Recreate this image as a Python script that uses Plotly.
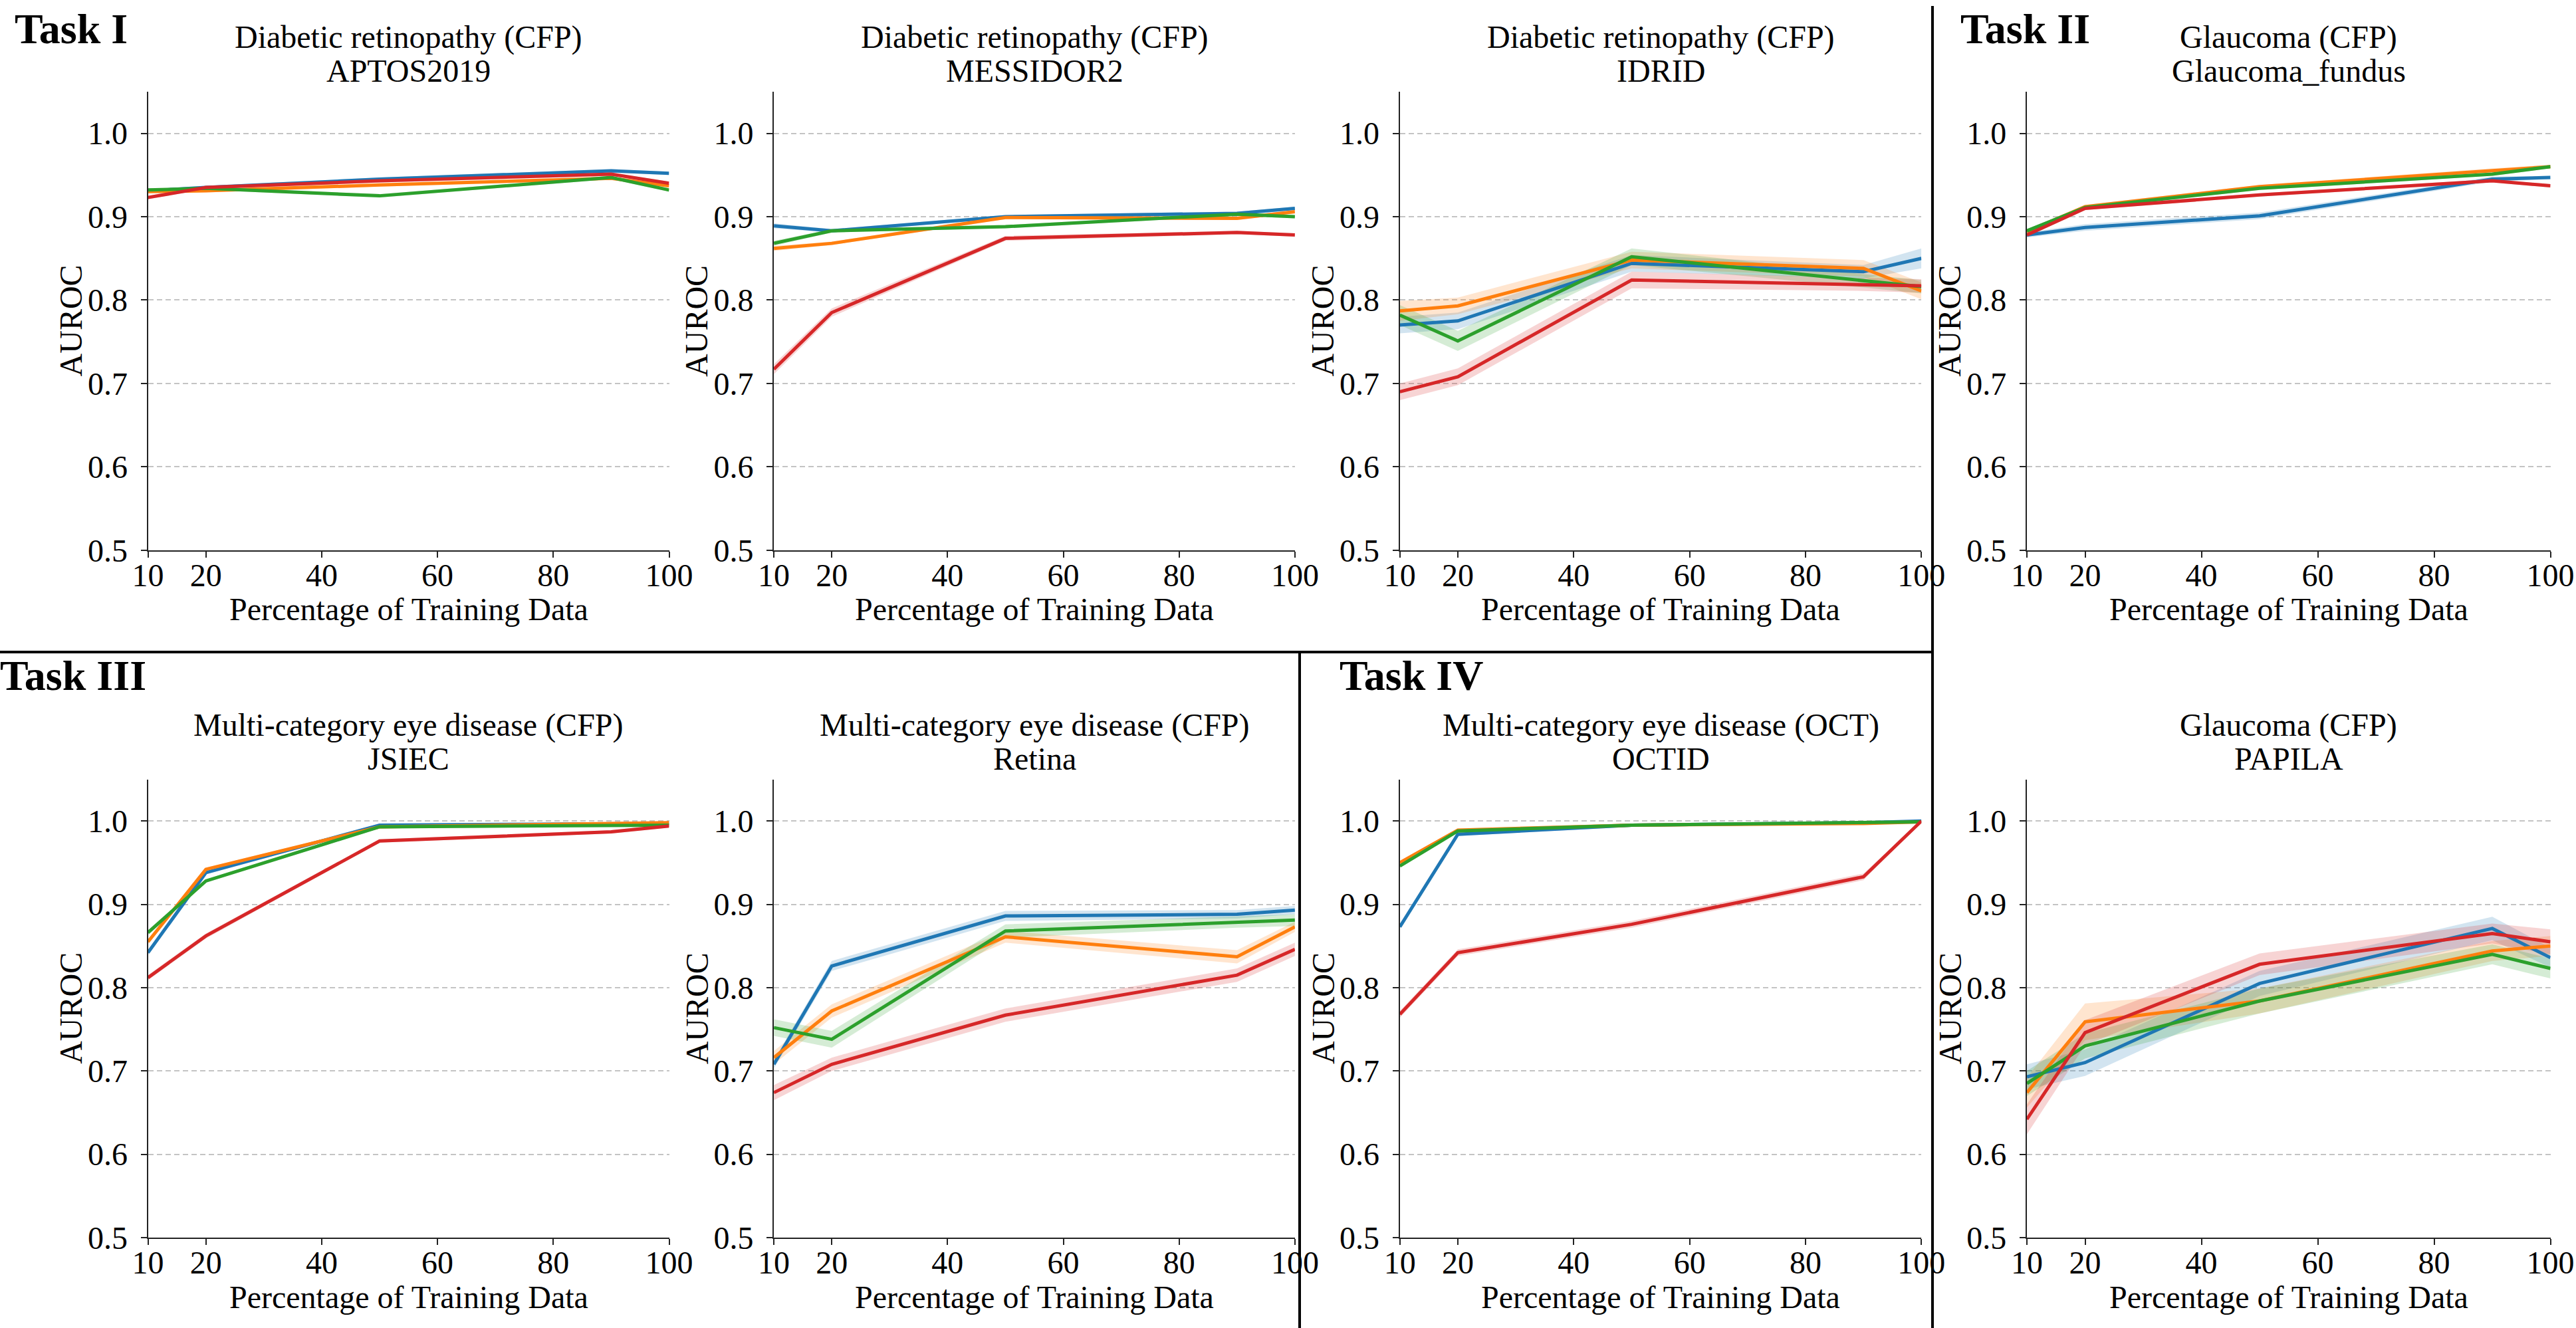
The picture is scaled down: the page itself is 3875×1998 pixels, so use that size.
import plotly.graph_objects as go

# ---------------------------------------------------------------------------
# Data: mean AUROC (rows: blue, orange, green, red model) and the +/- spread
# of the shaded band, sampled at the training-data percentages in PCT.
# ---------------------------------------------------------------------------
PCT = [10, 20, 50, 90, 100]
X_TICKS = [10, 20, 40, 60, 80, 100]
Y_TICKS = [0.5, 0.6, 0.7, 0.8, 0.9, 1.0]
Y_TICK_TEXT = ["0.5", "0.6", "0.7", "0.8", "0.9", "1.0"]
COLORS = ["#1f77b4", "#ff7f0e", "#2ca02c", "#d62728"]
BAND_RGB = ["31,119,180", "255,127,14", "44,160,44", "214,39,40"]

APTOS2019 = [
    [0.931, 0.935, 0.945, 0.955, 0.952],
    [0.930, 0.931, 0.938, 0.946, 0.937],
    [0.932, 0.934, 0.925, 0.947, 0.932],
    [0.923, 0.935, 0.943, 0.951, 0.940],
]
APTOS2019_SD = [
    [0.002, 0.002, 0.002, 0.002, 0.002],
    [0.002, 0.002, 0.002, 0.002, 0.002],
    [0.002, 0.002, 0.002, 0.002, 0.002],
    [0.002, 0.002, 0.002, 0.002, 0.002],
]

MESSIDOR2 = [
    [0.889, 0.883, 0.900, 0.904, 0.910],
    [0.862, 0.868, 0.899, 0.898, 0.906],
    [0.868, 0.883, 0.888, 0.903, 0.900],
    [0.717, 0.785, 0.874, 0.881, 0.878],
]
MESSIDOR2_SD = [
    [0.003, 0.002, 0.002, 0.002, 0.002],
    [0.003, 0.002, 0.002, 0.002, 0.002],
    [0.003, 0.002, 0.002, 0.002, 0.002],
    [0.006, 0.005, 0.003, 0.002, 0.002],
]

IDRID = [
    [0.770, 0.775, 0.844, 0.834, 0.850],
    [0.787, 0.793, 0.848, 0.838, 0.811],
    [0.782, 0.751, 0.852, 0.823, 0.816],
    [0.690, 0.708, 0.824, 0.819, 0.817],
]
IDRID_SD = [
    [0.010, 0.010, 0.010, 0.008, 0.012],
    [0.012, 0.010, 0.010, 0.010, 0.010],
    [0.012, 0.012, 0.010, 0.008, 0.008],
    [0.010, 0.010, 0.010, 0.008, 0.008],
]

GLAUCOMA_FUNDUS = [
    [0.878, 0.887, 0.901, 0.945, 0.947],
    [0.882, 0.912, 0.936, 0.956, 0.960],
    [0.883, 0.911, 0.934, 0.951, 0.960],
    [0.878, 0.910, 0.926, 0.943, 0.937],
]
GLAUCOMA_FUNDUS_SD = [
    [0.003, 0.004, 0.004, 0.003, 0.002],
    [0.002, 0.002, 0.002, 0.002, 0.002],
    [0.002, 0.002, 0.002, 0.002, 0.002],
    [0.002, 0.002, 0.002, 0.002, 0.002],
]

JSIEC = [
    [0.842, 0.938, 0.995, 0.996, 0.997],
    [0.855, 0.942, 0.993, 0.997, 0.998],
    [0.866, 0.928, 0.993, 0.995, 0.995],
    [0.812, 0.862, 0.976, 0.987, 0.994],
]
JSIEC_SD = [
    [0.003, 0.002, 0.002, 0.002, 0.002],
    [0.003, 0.002, 0.002, 0.002, 0.002],
    [0.003, 0.002, 0.002, 0.002, 0.002],
    [0.003, 0.003, 0.002, 0.002, 0.002],
]

RETINA = [
    [0.708, 0.826, 0.886, 0.888, 0.893],
    [0.716, 0.772, 0.861, 0.837, 0.873],
    [0.752, 0.738, 0.868, 0.879, 0.881],
    [0.674, 0.708, 0.767, 0.815, 0.846],
]
RETINA_SD = [
    [0.005, 0.006, 0.006, 0.005, 0.005],
    [0.008, 0.008, 0.007, 0.008, 0.006],
    [0.010, 0.010, 0.008, 0.007, 0.007],
    [0.009, 0.008, 0.008, 0.008, 0.008],
]

OCTID = [
    [0.873, 0.984, 0.995, 0.998, 1.000],
    [0.950, 0.989, 0.995, 0.997, 0.999],
    [0.946, 0.988, 0.995, 0.998, 0.999],
    [0.768, 0.842, 0.876, 0.933, 1.000],
]
OCTID_SD = [
    [0.002, 0.002, 0.002, 0.001, 0.001],
    [0.002, 0.002, 0.002, 0.001, 0.001],
    [0.002, 0.002, 0.002, 0.001, 0.001],
    [0.004, 0.004, 0.004, 0.004, 0.001],
]

PAPILA = [
    [0.693, 0.710, 0.805, 0.871, 0.836],
    [0.674, 0.759, 0.784, 0.844, 0.850],
    [0.685, 0.730, 0.784, 0.840, 0.823],
    [0.642, 0.746, 0.828, 0.865, 0.855],
]
PAPILA_SD = [
    [0.015, 0.016, 0.015, 0.014, 0.012],
    [0.018, 0.022, 0.015, 0.012, 0.012],
    [0.015, 0.015, 0.015, 0.012, 0.012],
    [0.018, 0.015, 0.013, 0.012, 0.015],
]

PANELS = [
    ("Diabetic retinopathy (CFP)", "APTOS2019", APTOS2019, APTOS2019_SD),
    ("Diabetic retinopathy (CFP)", "MESSIDOR2", MESSIDOR2, MESSIDOR2_SD),
    ("Diabetic retinopathy (CFP)", "IDRID", IDRID, IDRID_SD),
    ("Glaucoma (CFP)", "Glaucoma_fundus", GLAUCOMA_FUNDUS, GLAUCOMA_FUNDUS_SD),
    ("Multi-category eye disease (CFP)", "JSIEC", JSIEC, JSIEC_SD),
    ("Multi-category eye disease (CFP)", "Retina", RETINA, RETINA_SD),
    ("Multi-category eye disease (OCT)", "OCTID", OCTID, OCTID_SD),
    ("Glaucoma (CFP)", "PAPILA", PAPILA, PAPILA_SD),
]

TASK_LABELS = [("Task I", 20, 44), ("Task II", 2947, 44),
               ("Task III", -2, 1016), ("Task IV", 2013, 1016)]

# ---------------------------------------------------------------------------
# Layout geometry (pixels of the 3875 x 1998 canvas)
# ---------------------------------------------------------------------------
W, H = 3875, 1998
COL_LEFT = [222.6, 1164.1, 2105.8, 3049.0]
COL_RIGHT = [1006.5, 1947.9, 2890.3, 3836.6]
ROW_TOP = [137.8, 1172.5]
ROW_BOTTOM = [827.8, 1862.0]

FONT = "Liberation Serif, Times New Roman, serif"
FS = 48


def px_x(v):
    return v / W


def px_y(v):
    return 1 - v / H


fig = go.Figure()
annotations = []

for i, (title1, title2, means, spreads) in enumerate(PANELS):
    row, col = divmod(i, 4)
    n = i + 1
    xa = "x" if n == 1 else f"x{n}"
    ya = "y" if n == 1 else f"y{n}"

    # shaded spread bands first, then the mean lines on top
    for k in range(4):
        upper = [m + s for m, s in zip(means[k], spreads[k])]
        lower = [m - s for m, s in zip(means[k], spreads[k])]
        fig.add_trace(go.Scatter(
            x=PCT + PCT[::-1], y=upper + lower[::-1],
            fill="toself", fillcolor=f"rgba({BAND_RGB[k]},0.2)",
            line=dict(width=0), mode="lines", hoverinfo="skip",
            showlegend=False, xaxis=xa, yaxis=ya))
    for k in range(4):
        fig.add_trace(go.Scatter(
            x=PCT, y=means[k], mode="lines",
            line=dict(color=COLORS[k], width=5),
            showlegend=False, xaxis=xa, yaxis=ya))

    xdom = [px_x(COL_LEFT[col]), px_x(COL_RIGHT[col])]
    ydom = [px_y(ROW_BOTTOM[row]), px_y(ROW_TOP[row])]
    axis_common = dict(
        showline=True, linecolor="#222222", linewidth=2.2,
        ticks="outside", ticklen=9, tickwidth=2.2, tickcolor="#222222",
        tickfont=dict(family=FONT, size=FS, color="black"),
        zeroline=False, automargin=False,
    )
    fig.layout[f"xaxis{n}" if n > 1 else "xaxis"] = dict(
        domain=xdom, range=[10, 100], anchor=ya,
        tickvals=X_TICKS, ticktext=[str(v) for v in X_TICKS],
        showgrid=False, ticklabelstandoff=-15, **axis_common)
    fig.layout[f"yaxis{n}" if n > 1 else "yaxis"] = dict(
        domain=ydom, range=[0.5, 1.05], anchor=xa,
        tickvals=Y_TICKS, ticktext=Y_TICK_TEXT,
        showgrid=True, gridcolor="#c4c4c4", gridwidth=2,
        griddash="8px,5px", ticklabelstandoff=10, **axis_common)

    cx = (COL_LEFT[col] + COL_RIGHT[col]) / 2
    top = ROW_TOP[row]
    bottom = ROW_BOTTOM[row]
    # two-line panel title
    for text, dy in ((title1, 81.5), (title2, 31.0)):
        annotations.append(dict(
            text=text, x=px_x(cx), y=px_y(top - dy), xref="paper",
            yref="paper", xanchor="center", yanchor="middle",
            showarrow=False, font=dict(family=FONT, size=FS, color="black")))
    # axis titles
    annotations.append(dict(
        text="Percentage of Training Data", x=px_x(cx), y=px_y(bottom + 89),
        xref="paper", yref="paper", xanchor="center", yanchor="middle",
        showarrow=False, font=dict(family=FONT, size=FS, color="black")))
    annotations.append(dict(
        text="AUROC", x=px_x(COL_LEFT[col] - 116),
        y=px_y((top + bottom) / 2), xref="paper", yref="paper",
        xanchor="center", yanchor="middle", textangle=-90,
        showarrow=False, font=dict(family=FONT, size=FS, color="black")))

for text, lx, cy in TASK_LABELS:
    annotations.append(dict(
        text=f"<b>{text}</b>", x=px_x(lx), y=px_y(cy), xref="paper",
        yref="paper", xanchor="left", yanchor="middle", showarrow=False,
        font=dict(family=FONT, size=64, color="black")))

# separators between the task groups
line_style = dict(color="black", width=4)
shapes = [
    dict(type="line", xref="paper", yref="paper",
         x0=px_x(2907), x1=px_x(2907), y0=px_y(1998), y1=px_y(9),
         line=line_style),
    dict(type="line", xref="paper", yref="paper",
         x0=px_x(0), x1=px_x(2907), y0=px_y(981), y1=px_y(981),
         line=line_style),
    dict(type="line", xref="paper", yref="paper",
         x0=px_x(1955), x1=px_x(1955), y0=px_y(1998), y1=px_y(981),
         line=line_style),
]

fig.update_layout(
    template="none",
    width=W, height=H, autosize=False,
    margin=dict(l=0, r=0, t=0, b=0, pad=0),
    paper_bgcolor="white", plot_bgcolor="white", showlegend=False,
    annotations=annotations, shapes=shapes,
    font=dict(family=FONT, size=FS, color="black"),
)

fig.write_html("out.html")
